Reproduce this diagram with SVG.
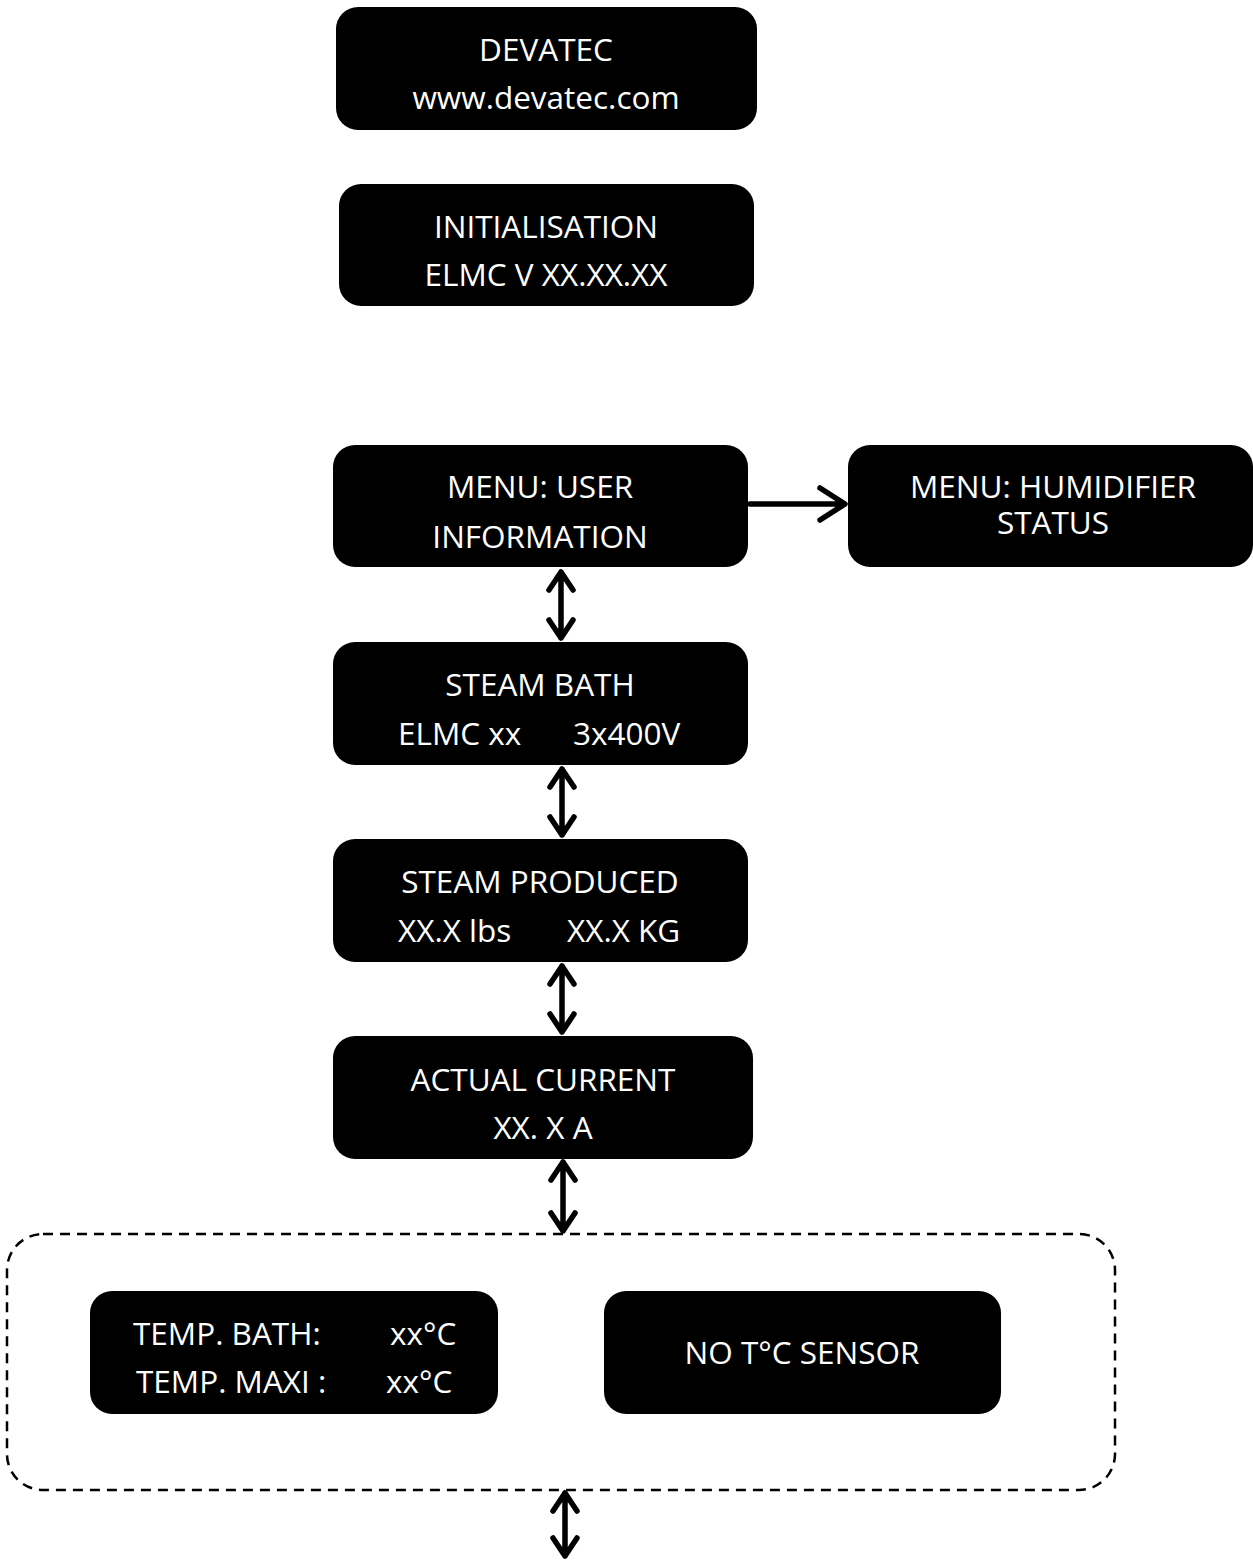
<svg xmlns="http://www.w3.org/2000/svg" width="1253" height="1560" viewBox="0 0 1253 1560">
<style>
.box{fill:#000}
.t{fill:#fff;font-family:"Open Sans","Liberation Sans",sans-serif;font-size:31.5px;text-anchor:middle}
.ts{fill:#fff;font-family:"Open Sans","Liberation Sans",sans-serif;font-size:31.5px}
.c{stroke:#000;stroke-width:5.5;fill:none;stroke-linecap:round;stroke-linejoin:round}
.dash{stroke:#000;stroke-width:2.5;fill:none;stroke-dasharray:10 7}
</style>
<rect width="1253" height="1560" fill="#fff"/>
<g id="n1"><rect class="box" x="336" y="7" width="421" height="123" rx="22"/><text class="t" x="546" y="61">DEVATEC</text><text class="t" x="546" y="109">www.devatec.com</text></g>
<g id="n2"><rect class="box" x="339" y="184" width="415" height="122" rx="22"/><text class="t" x="546" y="238">INITIALISATION</text><text class="t" x="546" y="286">ELMC V XX.XX.XX</text></g>
<g id="n3"><rect class="box" x="333" y="445" width="415" height="122" rx="22"/><text class="t" x="540" y="498">MENU: USER</text><text class="t" x="540" y="548">INFORMATION</text></g>
<g id="n4"><rect class="box" x="848" y="445" width="405" height="122" rx="22"/><text class="t" x="1053" y="498">MENU: HUMIDIFIER</text><text class="t" x="1053" y="534">STATUS</text></g>
<g id="n5"><rect class="box" x="333" y="642" width="415" height="123" rx="22"/><text class="t" x="540" y="696">STEAM BATH</text><text class="ts" x="398" y="745">ELMC xx</text><text class="ts" x="573" y="745">3x400V</text></g>
<g id="n6"><rect class="box" x="333" y="839" width="415" height="123" rx="22"/><text class="t" x="540" y="893">STEAM PRODUCED</text><text class="ts" x="398" y="942">XX.X lbs</text><text class="ts" x="567" y="942">XX.X KG</text></g>
<g id="n7"><rect class="box" x="333" y="1036" width="420" height="123" rx="22"/><text class="t" x="543" y="1091">ACTUAL CURRENT</text><text class="t" x="543" y="1139">XX. X A</text></g>
<g id="group"><rect class="dash" x="7" y="1234" width="1108" height="256" rx="36"/></g>
<g id="n8"><rect class="box" x="90" y="1291" width="408" height="123" rx="22"/><text class="ts" x="133" y="1345">TEMP. BATH:</text><text class="ts" x="390" y="1345">xx°C</text><text class="ts" x="136" y="1393">TEMP. MAXI :</text><text class="ts" x="386" y="1393">xx°C</text></g>
<g id="n9"><rect class="box" x="604" y="1291" width="397" height="123" rx="22"/><text class="t" x="802" y="1364">NO T°C SENSOR</text></g>
<g id="connectors">
<path class="c" d="M750 504H844M820 488L845 504L820 520"/>
<path class="c" d="M561 572V638M549 590L561 572L573 590M549 620L561 638L573 620"/>
<path class="c" d="M562 769V835M550 787L562 769L574 787M550 817L562 835L574 817"/>
<path class="c" d="M562 966V1032M550 984L562 966L574 984M550 1014L562 1032L574 1014"/>
<path class="c" d="M563 1162V1231M551 1180L563 1162L575 1180M551 1213L563 1231L575 1213"/>
<path class="c" d="M565 1493V1556M553 1511L565 1493L577 1511M553 1538L565 1556L577 1538"/>
</g>
</svg>
